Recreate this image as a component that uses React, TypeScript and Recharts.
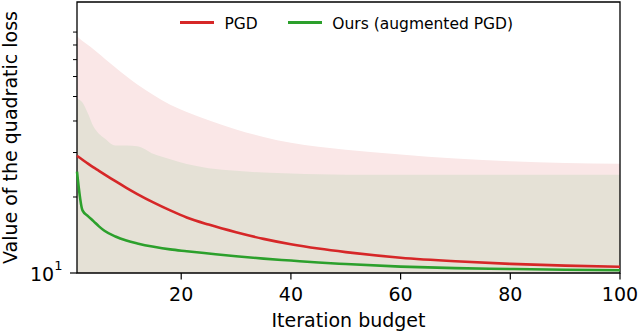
import { ComposedChart, Area, Line, XAxis, YAxis, ReferenceArea } from "recharts"

document.body.style.margin = "0"

const FONT = "DejaVu Sans"

// iteration budget (x) and the values
const iterations = [1, 2, 3, 4, 5, 6, 8, 10, 12, 15, 18, 21, 25, 30, 35, 40, 45, 50, 60, 70, 80, 90, 100]
const pgdMean = [29.1, 28.1, 27.1, 26.2, 25.4, 24.6, 23.1, 21.75, 20.55, 19.0, 17.7, 16.6, 15.55, 14.5, 13.65, 13.0, 12.5, 12.1, 11.5, 11.13, 10.87, 10.7, 10.58]
const pgdUpper = [86.6, 83, 80, 77, 73.8, 70.8, 65.2, 60.2, 55.8, 50.6, 46.4, 43.4, 40.3, 37, 34.6, 32.8, 31.6, 30.8, 29.5, 28.4, 27.7, 27.3, 27.1]
const pgdLower = [9.2, 9.2, 9.1, 9.1, 9.1, 9.0, 9.0, 9.0, 8.9, 8.9, 8.9, 8.8, 8.8, 8.8, 8.8, 8.7, 8.7, 8.7, 8.7, 8.6, 8.6, 8.6, 8.6]
const oursMean = [25.2, 17.7, 16.8, 16.05, 15.3, 14.7, 13.95, 13.45, 13.1, 12.7, 12.4, 12.2, 11.95, 11.65, 11.4, 11.2, 11.0, 10.85, 10.6, 10.45, 10.37, 10.3, 10.25]
const oursUpper = [49, 47.3, 42.8, 38, 35.6, 34.2, 32, 32, 31.8, 29.6, 28.2, 27, 26, 25.4, 25, 24.8, 24.6, 24.5, 24.5, 24.5, 24.5, 24.5, 24.5]
const oursLower = [9.0, 8.9, 8.9, 8.8, 8.8, 8.8, 8.7, 8.7, 8.7, 8.6, 8.6, 8.6, 8.6, 8.5, 8.5, 8.5, 8.5, 8.5, 8.4, 8.4, 8.4, 8.4, 8.4]

const xTicks = [20, 40, 60, 80, 100]
const yTicks = [10, 20, 30, 40, 50, 60, 70, 80, 90]
const Y_MAX = 118.4

const legendItems = [
  { label: "PGD", color: "#d62728" },
  { label: "Ours (augmented PGD)", color: "#2ca02c" },
]

const data = iterations.map((it, i) => ({
  it,
  pgd: pgdMean[i],
  ours: oursMean[i],
  pgdBand: [pgdLower[i], pgdUpper[i]],
  oursBand: [oursLower[i], oursUpper[i]],
}))

const XTick = (props: any) => {
  const { x, y, payload } = props
  return (
    <g>
      <line x1={x} x2={x} y1={y} y2={y + 6.5} stroke="#000" strokeWidth={1.2} />
      <text x={x} y={y + 28} textAnchor="middle" fontSize={19} fontFamily={FONT} fill="#000">
        {payload.value}
      </text>
    </g>
  )
}

const YTick = (props: any) => {
  const { x, y, payload } = props
  const major = payload.value === 10
  return (
    <g>
      <line x1={x - (major ? 7 : 4)} x2={x} y1={y} y2={y} stroke="#000" strokeWidth={major ? 1.2 : 1} />
      {major && (
        <text x={x - 14.5} y={y + 8} textAnchor="end" fontSize={19} fontFamily={FONT} fill="#000">
          10<tspan dy={-11} fontSize={13}>1</tspan>
        </text>
      )}
    </g>
  )
}

const xTitle = (props: any) => {
  const vb = props.viewBox || { x: 77, y: 273, width: 543 }
  return (
    <text x={vb.x + vb.width / 2} y={vb.y + 53.5} textAnchor="middle" fontSize={19} fontFamily={FONT} fill="#000">
      Iteration budget
    </text>
  )
}

const yTitle = (props: any) => {
  const vb = props.viewBox || { y: 2, height: 271 }
  const cy = vb.y + vb.height / 2
  return (
    <text x={17} y={cy} transform={`rotate(-90, 17, ${cy})`} textAnchor="middle" fontSize={19} fontFamily={FONT} fill="#000">
      Value of the quadratic loss
    </text>
  )
}

export default function App() {
  return (
    <div style={{ position: "relative", width: 640, height: 334, background: "#fff" }}>
      <ComposedChart width={640} height={334} data={data} margin={{ top: 2, right: 20, bottom: 0, left: 0 }}>
        <XAxis
          dataKey="it"
          type="number"
          domain={[1, 100]}
          ticks={xTicks}
          interval={0}
          height={61}
          axisLine={false}
          tickLine={false}
          tickSize={0}
          tickMargin={0}
          tick={XTick}
          label={xTitle}
        />
        <YAxis
          type="number"
          scale="log"
          domain={[10, Y_MAX]}
          allowDataOverflow
          ticks={yTicks}
          interval={0}
          width={77}
          axisLine={false}
          tickLine={false}
          tickSize={0}
          tickMargin={0}
          tick={YTick}
          label={yTitle}
        />
        <Area
          dataKey="pgdBand"
          type="monotone"
          stroke="none"
          fill="#fae7e7"
          fillOpacity={1}
          isAnimationActive={false}
        />
        <Area
          dataKey="oursBand"
          type="monotone"
          stroke="none"
          fill="#e5e1d6"
          fillOpacity={1}
          isAnimationActive={false}
        />
        <Line dataKey="pgd" type="monotone" stroke="#d62728" strokeWidth={2.6} dot={false} isAnimationActive={false} />
        <Line dataKey="ours" type="monotone" stroke="#2ca02c" strokeWidth={2.6} dot={false} isAnimationActive={false} />
        <ReferenceArea x1={1} x2={100} y1={10} y2={Y_MAX} fill="none" stroke="#000" strokeWidth={1.3} ifOverflow="visible" />
      </ComposedChart>
      <div
        style={{
          position: "absolute",
          left: 180,
          top: 13.4,
          height: 18,
          display: "flex",
          alignItems: "center",
          fontFamily: FONT,
          fontSize: 15.5,
          color: "#000",
        }}
      >
        {legendItems.map((item, i) => (
          <div key={item.label} style={{ display: "flex", alignItems: "center", marginLeft: i ? 30 : 0 }}>
            <span style={{ display: "inline-block", width: 34, height: 3, background: item.color, marginRight: 10.5 }} />
            <span style={{ position: "relative", top: 1.5, whiteSpace: "nowrap", lineHeight: "18px" }}>{item.label}</span>
          </div>
        ))}
      </div>
    </div>
  )
}
